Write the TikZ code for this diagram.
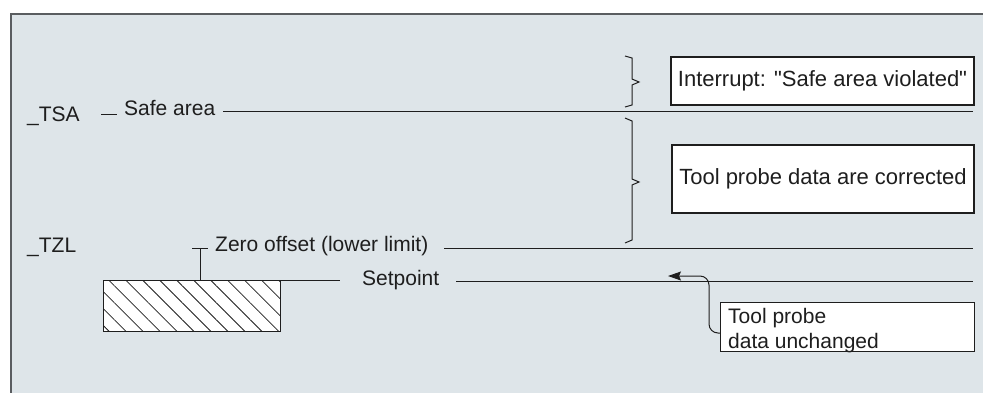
\documentclass[tikz,border=0pt]{standalone}
\usepackage{fontspec}
\setmainfont{Liberation Sans}
\usetikzlibrary{arrows.meta,patterns.meta,calc}
\definecolor{bgc}{HTML}{DEE5E9}
\definecolor{framec}{HTML}{5A5D60}
\definecolor{linec}{HTML}{1E1E1E}
\begin{document}
\begin{tikzpicture}[x=1pt,y=-1pt,
  lbl/.style={anchor=base west, inner sep=0pt, font=\fontsize{21}{25}\selectfont, text=linec},
  lvl/.style={draw=linec, line width=1pt},
  boxn/.style={draw=linec, fill=white, line width=1.2pt, inner sep=0pt, font=\fontsize{22}{26}\selectfont, text=linec},
  bracen/.style={draw=linec, line width=1pt, line join=miter}]
\useasboundingbox (0,0) rectangle (983,392);
\clip (0,0) rectangle (983,392);
\fill[white] (0,0) rectangle (983,392);
\draw[framec, fill=bgc, line width=2pt] (11,14) rectangle (1000,410);

% levels and labels
\node[lbl] (tsa) at (27,121.5) {\_TSA};
\coordinate (sdL) at (101,114);
\coordinate (sdR) at (117,114);
\draw[lvl] (sdL) -- (sdR);
\node[lbl] (safe) at (124,115.5) {Safe area};
\coordinate (tsaL) at (223,111);
\coordinate (tsaR) at (973,111);
\draw[lvl] (tsaL) -- (tsaR);

\node[lbl] (tzl) at (27,252) {\_TZL};
\node[lbl] (zero) at (215,251.3) {Zero offset (lower limit)};
\coordinate (ztL) at (192,248.5);
\coordinate (ztR) at (208,248.5);
\coordinate (ztM) at (200,248.5);
\coordinate (ztB) at (200,280);
\draw[lvl] (ztL) -- (ztR);
\draw[lvl] (ztM) -- (ztB);
\coordinate (tzlL) at (444,248);
\coordinate (tzlR) at (973,248);
\draw[lvl] (tzlL) -- (tzlR);

% workpiece
\draw[lvl, fill=white] (103,280) rectangle (280,331);
\fill[pattern={Lines[angle=-45,distance=12pt,line width=0.8pt]}, pattern color=linec] (103,280) rectangle (280,331);
\draw[lvl] (103,280) rectangle (280,331);

\node[lbl] (setp) at (362,285.7) {Setpoint};
\coordinate (spL1) at (280,280);
\coordinate (spR1) at (340,280);
\draw[lvl] (spL1) -- (spR1);
\coordinate (spL2) at (456,281);
\coordinate (spR2) at (973,281);
\draw[lvl] (spL2) -- (spR2);

% braces
\draw[bracen] (625,56) -- (632,58) -- (632,79) -- (639,82) -- (632,85) -- (632,105) -- (625,107);
\draw[bracen] (625,118) -- (632,121) -- (632,179) -- (639,182) -- (632,185) -- (632,240) -- (625,243);

% boxes
\node[boxn, minimum width=303pt, minimum height=48pt] (b1) at (822.5,81) {Interrupt: \textquotedbl Safe area violated\textquotedbl};
\node[boxn, minimum width=302pt, minimum height=68pt] (b2) at (823,179) {Tool probe data are corrected};
\node[boxn, minimum width=254pt, minimum height=49pt, anchor=north west] (b3) at (720,302) {};
\node[lbl] (t3a) at (728,323.7) {Tool probe};
\node[lbl] (t3b) at (728,348) {data unchanged};

% arrow
\coordinate (tip) at (668,276);
\draw[lvl, rounded corners=9pt, -{Stealth[length=13pt,width=9pt,inset=2pt]}] ($(b3.north west)+(0,31)$) -- (709,333) -- (709,276) -- (tip);
\end{tikzpicture}
\end{document}
